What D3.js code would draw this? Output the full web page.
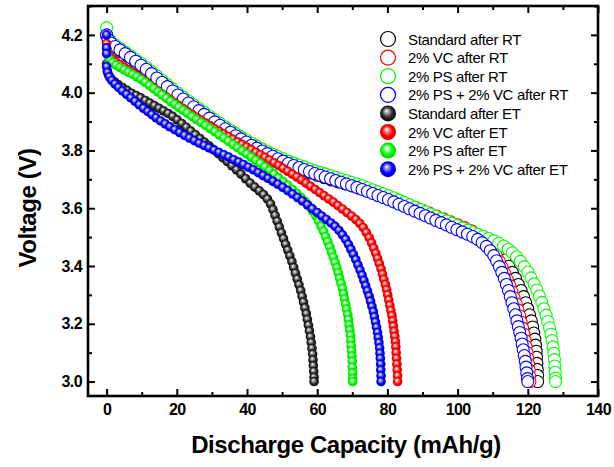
<!DOCTYPE html>
<html><head><meta charset="utf-8">
<script src="https://cdn.jsdelivr.net/npm/d3@7"></script>
<style>
body{margin:0;background:#fff}
svg{display:block}
text{font-family:"Liberation Sans",Arial,Helvetica,sans-serif}
</style>
</head><body>
<svg id="chart" width="614" height="467"></svg>
<script>
// Axis ticks
const xTicks = [0, 20, 40, 60, 80, 100, 120, 140];
const xMinorTicks = [10, 30, 50, 70, 90, 110, 130];
const yTicks = [3.0, 3.2, 3.4, 3.6, 3.8, 4.0, 4.2];
const yMinorTicks = [3.1, 3.3, 3.5, 3.7, 3.9, 4.1, 4.3];

const seriesNames = [
  "Standard after RT", "2% VC after RT", "2% PS after RT", "2% PS + 2% VC after RT",
  "Standard after ET", "2% VC after ET", "2% PS after ET", "2% PS + 2% VC after ET"
];
const seriesColors = ["#000000", "#ff0000", "#00ff00", "#0000ff"];

// Discharge curves: [capacity mAh/g, voltage V]
const standardRT = [[0,4.2],[0.5,4.18],[2,4.16],[4,4.142],[6,4.126],[8,4.11],[10,4.092],[12,4.073],[14,4.053],[16,4.033],[18,4.012],[20,3.993],[22,3.974],[24,3.956],[26,3.938],[28,3.92],[30,3.903],[32,3.886],[34,3.869],[36,3.853],[38,3.838],[40,3.823],[42,3.809],[44,3.796],[46,3.783],[48,3.771],[50,3.76],[52,3.75],[54,3.74],[56,3.731],[58,3.722],[60,3.714],[62,3.706],[64,3.698],[66,3.691],[68,3.684],[70,3.677],[72,3.669],[74,3.661],[76,3.653],[78,3.645],[80,3.636],[82,3.627],[84,3.618],[86,3.608],[88,3.598],[90,3.588],[92,3.578],[94,3.568],[96,3.558],[98,3.548],[100,3.538],[102,3.528],[104,3.517],[106,3.505],[108,3.491],[109.6,3.476],[111,3.459],[112.3,3.44],[113.5,3.42],[114.6,3.399],[115.6,3.378],[116.5,3.357],[117.3,3.336],[118.1,3.315],[118.8,3.294],[119.4,3.273],[120,3.252],[120.5,3.231],[121,3.21],[121.4,3.189],[121.7,3.168],[122,3.147],[122.2,3.126],[122.4,3.105],[122.5,3.084],[122.6,3.063],[122.7,3.042],[122.8,3.021],[122.8,3.0]];

const vcRT = [[0,4.2],[0.5,4.18],[2,4.162],[4,4.145],[6,4.13],[8,4.114],[10,4.097],[12,4.077],[14,4.057],[16,4.037],[18,4.017],[20,3.998],[22,3.98],[24,3.962],[26,3.945],[28,3.928],[30,3.911],[32,3.895],[34,3.879],[36,3.863],[38,3.848],[40,3.833],[42,3.819],[44,3.806],[46,3.794],[48,3.782],[50,3.771],[52,3.761],[54,3.751],[56,3.742],[58,3.733],[60,3.725],[62,3.717],[64,3.709],[66,3.701],[68,3.694],[70,3.686],[72,3.678],[74,3.67],[76,3.661],[78,3.652],[80,3.643],[82,3.633],[84,3.623],[86,3.613],[88,3.603],[90,3.593],[92,3.583],[94,3.573],[96,3.563],[98,3.553],[100,3.543],[102,3.533],[104,3.522],[106,3.508],[107.5,3.494],[108.8,3.477],[110,3.457],[111,3.437],[111.9,3.416],[112.7,3.395],[113.5,3.374],[114.2,3.353],[114.9,3.332],[115.5,3.311],[116.1,3.29],[116.7,3.269],[117.2,3.248],[117.7,3.227],[118.1,3.206],[118.5,3.185],[118.9,3.164],[119.2,3.143],[119.5,3.122],[119.8,3.1],[120,3.08],[120.2,3.06],[120.4,3.04],[120.5,3.02],[120.6,3.0]];

const psRT = [[0,4.225],[0.4,4.19],[1.2,4.178],[2.4,4.166],[3.8,4.154],[5.3,4.141],[6.8,4.128],[8.3,4.115],[9.8,4.102],[11.3,4.088],[12.8,4.073],[14.3,4.058],[15.8,4.043],[17.3,4.028],[18.8,4.013],[20.3,3.999],[21.8,3.985],[23.3,3.971],[24.8,3.958],[26.3,3.945],[27.8,3.932],[29.3,3.919],[30.8,3.906],[32.3,3.894],[33.8,3.882],[35.3,3.87],[36.8,3.858],[38.3,3.847],[39.8,3.836],[41.3,3.825],[42.8,3.815],[44.3,3.805],[45.8,3.796],[47.3,3.787],[48.8,3.779],[50.3,3.771],[51.8,3.763],[53.3,3.756],[54.8,3.749],[56.3,3.743],[57.8,3.736],[59.3,3.73],[60.8,3.724],[62.3,3.719],[63.8,3.713],[65.3,3.707],[66.8,3.701],[68.3,3.696],[69.8,3.69],[71.3,3.684],[72.8,3.678],[74.3,3.671],[75.8,3.664],[77.3,3.657],[78.8,3.65],[80.3,3.643],[81.8,3.636],[83.3,3.628],[84.8,3.62],[86.3,3.612],[87.8,3.604],[89.3,3.596],[90.8,3.588],[92.3,3.58],[93.8,3.572],[95.3,3.564],[96.8,3.556],[98.3,3.548],[99.8,3.54],[101.3,3.532],[102.8,3.524],[104.3,3.516],[105.8,3.51],[107.3,3.503],[108.8,3.496],[110.3,3.488],[111.7,3.479],[113.1,3.469],[114.4,3.458],[115.6,3.446],[116.8,3.432],[117.9,3.416],[119,3.398],[120,3.379],[120.9,3.359],[121.8,3.338],[122.6,3.317],[123.3,3.296],[124,3.274],[124.6,3.252],[125.2,3.23],[125.7,3.208],[126.2,3.186],[126.6,3.164],[126.9,3.142],[127.2,3.12],[127.4,3.098],[127.6,3.076],[127.7,3.054],[127.8,3.032],[127.9,3.012],[127.9,3.0]];

const psvcRT = [[0,4.2],[0.4,4.185],[1.2,4.172],[2.4,4.16],[3.8,4.148],[5.3,4.135],[6.8,4.122],[8.3,4.109],[9.8,4.095],[11.3,4.081],[12.8,4.066],[14.3,4.051],[15.8,4.036],[17.3,4.021],[18.8,4.006],[20.3,3.992],[21.8,3.978],[23.3,3.964],[24.8,3.951],[26.3,3.938],[27.8,3.925],[29.3,3.912],[30.8,3.899],[32.3,3.887],[33.8,3.875],[35.3,3.863],[36.8,3.851],[38.3,3.84],[39.8,3.829],[41.3,3.818],[42.8,3.808],[44.3,3.798],[45.8,3.789],[47.3,3.78],[48.8,3.771],[50.3,3.763],[51.8,3.755],[53.3,3.748],[54.8,3.741],[56.3,3.734],[57.8,3.727],[59.3,3.72],[60.8,3.714],[62.3,3.708],[63.8,3.702],[65.3,3.696],[66.8,3.69],[68.3,3.684],[69.8,3.678],[71.3,3.672],[72.8,3.665],[74.3,3.658],[75.8,3.651],[77.3,3.644],[78.8,3.637],[80.3,3.63],[81.8,3.622],[83.3,3.614],[84.8,3.606],[86.3,3.598],[87.8,3.59],[89.3,3.582],[90.8,3.574],[92.3,3.566],[93.8,3.558],[95.3,3.55],[96.8,3.542],[98.3,3.534],[99.8,3.526],[101.3,3.518],[102.8,3.51],[104.3,3.502],[105.7,3.492],[107,3.481],[108.2,3.468],[109.3,3.453],[110.3,3.436],[111.1,3.418],[111.9,3.398],[112.6,3.378],[113.3,3.357],[113.9,3.336],[114.5,3.315],[115,3.294],[115.5,3.273],[116,3.252],[116.5,3.231],[116.9,3.21],[117.3,3.19],[117.7,3.17],[118.1,3.15],[118.4,3.13],[118.7,3.11],[119,3.09],[119.3,3.07],[119.5,3.05],[119.7,3.03],[119.9,3.01],[120,3.0]];

const standardET = [[0,4.1],[0.2,4.075],[0.6,4.06],[1.3,4.048],[2.2,4.038],[3.3,4.028],[4.5,4.018],[5.8,4.008],[7.1,3.998],[8.4,3.99],[9.7,3.982],[11,3.973],[12.3,3.964],[13.6,3.955],[14.9,3.946],[16.2,3.937],[17.5,3.928],[18.8,3.918],[20.1,3.906],[21.4,3.893],[22.7,3.88],[24,3.867],[25.3,3.854],[26.6,3.841],[27.9,3.828],[29.2,3.816],[30.5,3.803],[31.8,3.789],[33.1,3.775],[34.4,3.761],[35.7,3.747],[37,3.733],[38.3,3.718],[39.6,3.702],[40.9,3.687],[42.2,3.673],[43.5,3.66],[44.7,3.647],[45.8,3.632],[46.7,3.615],[47.4,3.595],[48,3.575],[48.6,3.555],[49.2,3.535],[49.8,3.515],[50.4,3.495],[51,3.475],[51.6,3.455],[52.2,3.435],[52.8,3.415],[53.3,3.395],[53.8,3.375],[54.3,3.355],[54.8,3.335],[55.3,3.315],[55.7,3.295],[56.1,3.275],[56.5,3.255],[56.9,3.235],[57.2,3.215],[57.5,3.195],[57.8,3.175],[58.1,3.155],[58.3,3.135],[58.5,3.115],[58.7,3.095],[58.8,3.075],[58.9,3.055],[59,3.035],[59.1,3.015],[59.1,3.0]];

const vcET = [[0,4.17],[0.3,4.145],[0.9,4.128],[1.7,4.116],[2.7,4.106],[3.8,4.097],[5,4.088],[6.2,4.079],[7.4,4.07],[8.6,4.06],[9.8,4.05],[11,4.039],[12.2,4.028],[13.4,4.017],[14.6,4.006],[15.8,3.995],[17,3.985],[18.2,3.975],[19.4,3.965],[20.6,3.955],[21.8,3.945],[23,3.935],[24.3,3.925],[25.6,3.915],[26.9,3.905],[28.2,3.895],[29.5,3.885],[30.8,3.875],[32.1,3.866],[33.4,3.857],[34.7,3.848],[36,3.839],[37.3,3.83],[38.6,3.821],[39.9,3.812],[41.2,3.803],[42.5,3.794],[43.8,3.785],[45.1,3.776],[46.4,3.767],[47.7,3.757],[49,3.748],[50.3,3.738],[51.6,3.728],[52.9,3.718],[54.2,3.708],[55.5,3.698],[56.8,3.687],[58.1,3.676],[59.4,3.665],[60.7,3.654],[62,3.643],[63.3,3.632],[64.6,3.621],[65.9,3.609],[67.2,3.597],[68.5,3.585],[69.8,3.573],[71,3.561],[72.1,3.548],[73.1,3.533],[74,3.516],[74.8,3.498],[75.5,3.48],[76.1,3.462],[76.7,3.444],[77.2,3.426],[77.7,3.408],[78.2,3.39],[78.6,3.372],[79,3.354],[79.4,3.336],[79.8,3.318],[80.1,3.3],[80.4,3.282],[80.7,3.264],[81,3.246],[81.3,3.228],[81.5,3.21],[81.7,3.192],[81.9,3.174],[82.1,3.156],[82.3,3.138],[82.4,3.12],[82.5,3.1],[82.6,3.08],[82.7,3.06],[82.8,3.04],[82.9,3.02],[82.9,3.0]];

const psET = [[0,4.15],[0.3,4.13],[0.9,4.115],[1.7,4.104],[2.7,4.095],[3.8,4.087],[5,4.079],[6.2,4.071],[7.4,4.063],[8.6,4.055],[9.8,4.046],[11,4.036],[12.2,4.025],[13.4,4.014],[14.6,4.003],[15.8,3.992],[17,3.981],[18.2,3.97],[19.4,3.96],[20.6,3.949],[21.8,3.939],[23,3.929],[24.3,3.918],[25.6,3.907],[26.9,3.897],[28.2,3.887],[29.5,3.876],[30.8,3.865],[32.1,3.854],[33.4,3.843],[34.7,3.832],[36,3.821],[37.3,3.81],[38.6,3.799],[39.9,3.788],[41.2,3.777],[42.5,3.766],[43.8,3.755],[45.1,3.743],[46.4,3.731],[47.7,3.718],[49,3.705],[50.3,3.692],[51.6,3.679],[52.9,3.665],[54.2,3.651],[55.4,3.637],[56.6,3.622],[57.7,3.606],[58.7,3.59],[59.6,3.573],[60.4,3.556],[61.1,3.538],[61.8,3.52],[62.4,3.502],[63,3.484],[63.6,3.466],[64.1,3.448],[64.6,3.43],[65.1,3.412],[65.6,3.394],[66,3.376],[66.4,3.358],[66.8,3.34],[67.2,3.322],[67.5,3.304],[67.8,3.286],[68.1,3.268],[68.4,3.25],[68.7,3.232],[68.9,3.214],[69.1,3.196],[69.3,3.178],[69.5,3.16],[69.6,3.142],[69.7,3.124],[69.8,3.106],[69.9,3.088],[70,3.07],[70,3.05],[70.1,3.03],[70.1,3.01],[70.1,3.0]];

const psvcET = [[0,4.2],[0,4.155],[0,4.135],[0,4.09],[0.3,4.07],[0.8,4.055],[1.5,4.042],[2.4,4.03],[3.4,4.018],[4.5,4.006],[5.7,3.994],[6.9,3.982],[8.1,3.97],[9.3,3.958],[10.5,3.946],[11.7,3.935],[12.9,3.924],[14.1,3.913],[15.4,3.902],[16.7,3.892],[18,3.882],[19.4,3.872],[20.8,3.862],[22.2,3.852],[23.6,3.843],[25,3.834],[26.4,3.825],[27.8,3.817],[29.2,3.809],[30.6,3.801],[32,3.793],[33.4,3.785],[34.8,3.777],[36.2,3.768],[37.6,3.76],[39,3.751],[40.4,3.742],[41.8,3.733],[43.2,3.723],[44.6,3.713],[46,3.703],[47.4,3.693],[48.8,3.683],[50.2,3.672],[51.6,3.661],[53,3.649],[54.4,3.637],[55.8,3.625],[57.2,3.612],[58.6,3.598],[60,3.585],[61.3,3.573],[62.6,3.561],[63.9,3.549],[65.1,3.537],[66.2,3.523],[67.2,3.508],[68.1,3.492],[68.9,3.475],[69.6,3.458],[70.3,3.44],[71,3.422],[71.6,3.404],[72.2,3.386],[72.8,3.368],[73.3,3.35],[73.8,3.332],[74.3,3.314],[74.8,3.296],[75.2,3.278],[75.6,3.26],[76,3.242],[76.3,3.224],[76.6,3.206],[76.9,3.188],[77.2,3.17],[77.4,3.152],[77.6,3.134],[77.8,3.116],[77.9,3.098],[78,3.08],[78.1,3.06],[78.1,3.04],[78.2,3.02],[78.2,3.0]];

const seriesData = [standardRT, vcRT, psRT, psvcRT, standardET, vcET, psET, psvcET];

// Layout
const W = 614, H = 467;
const plot = { left: 88, right: 598, top: 6, bottom: 396 };

const svg = d3.select("#chart");
svg.append("rect").attr("width", W).attr("height", H).attr("fill", "#fff");

const x = d3.scaleLinear().domain([-5.3, 140]).range([plot.left, plot.right]);
const y = d3.scaleLinear().domain([2.95, 4.30]).range([plot.bottom, plot.top]);

// Glossy sphere gradients for the ET series
const shades = [
  ["#ffffff", "#a8a8a8", "#2a2a2a", "#000000"],
  ["#ffffff", "#ff9a9a", "#ff0000", "#c80000"],
  ["#ffffff", "#b0ffb0", "#00ff00", "#00c400"],
  ["#ffffff", "#9a9aff", "#0000ff", "#0000b4"]
];
const defs = svg.append("defs");
shades.forEach((s, i) => {
  const g = defs.append("radialGradient").attr("id", "sphere" + i)
    .attr("cx", "0.5").attr("cy", "0.5").attr("r", "0.55")
    .attr("fx", "0.4").attr("fy", "0.33");
  g.append("stop").attr("offset", "0").attr("stop-color", s[0]);
  g.append("stop").attr("offset", "0.22").attr("stop-color", s[1]);
  g.append("stop").attr("offset", "0.6").attr("stop-color", s[2]);
  g.append("stop").attr("offset", "1").attr("stop-color", s[3]);
});

// Data markers (RT: hollow circles, ET: shaded spheres)
const marks = svg.append("g");
seriesData.forEach((data, i) => {
  const c = i % 4;
  const isET = i >= 4;
  const g = marks.append("g");
  g.selectAll("circle").data(data).join("circle")
    .attr("cx", d => x(d[0]))
    .attr("cy", d => y(d[1]))
    .attr("r", isET ? 4.8 : 6)
    .attr("fill", isET ? `url(#sphere${c})` : "#fff")
    .attr("stroke", isET ? "none" : seriesColors[c])
    .attr("stroke-width", isET ? 0 : 1.1);
});

// Axes with inward ticks on all four sides
const tickLen = 7, minorLen = 4;
function styleAxis(g) {
  g.select(".domain").remove();
  g.selectAll(".tick line").attr("stroke", "#000").attr("stroke-width", 2);
  g.selectAll(".tick text")
    .attr("fill", "#000")
    .style("font-size", "16px")
    .style("font-weight", "bold")
    .style("letter-spacing", "-0.6px");
}
const fmtY = d3.format(".1f");

svg.append("g").attr("transform", `translate(0,${plot.bottom})`)
  .call(d3.axisBottom(x).tickValues(xTicks).tickSize(-tickLen).tickPadding(8).tickFormat(d3.format("d")))
  .call(styleAxis);
svg.append("g").attr("transform", `translate(0,${plot.bottom})`)
  .call(d3.axisBottom(x).tickValues(xMinorTicks).tickSize(-minorLen).tickFormat(""))
  .call(styleAxis);
svg.append("g").attr("transform", `translate(0,${plot.top})`)
  .call(d3.axisTop(x).tickValues(xTicks).tickSize(-tickLen).tickFormat(""))
  .call(styleAxis);
svg.append("g").attr("transform", `translate(0,${plot.top})`)
  .call(d3.axisTop(x).tickValues(xMinorTicks).tickSize(-minorLen).tickFormat(""))
  .call(styleAxis);

svg.append("g").attr("transform", `translate(${plot.left},0)`)
  .call(d3.axisLeft(y).tickValues(yTicks).tickSize(-tickLen).tickPadding(6).tickFormat(fmtY))
  .call(styleAxis);
svg.append("g").attr("transform", `translate(${plot.left},0)`)
  .call(d3.axisLeft(y).tickValues(yMinorTicks).tickSize(-minorLen).tickFormat(""))
  .call(styleAxis);
svg.append("g").attr("transform", `translate(${plot.right},0)`)
  .call(d3.axisRight(y).tickValues(yTicks).tickSize(-tickLen).tickFormat(""))
  .call(styleAxis);
svg.append("g").attr("transform", `translate(${plot.right},0)`)
  .call(d3.axisRight(y).tickValues(yMinorTicks).tickSize(-minorLen).tickFormat(""))
  .call(styleAxis);

// Frame
svg.append("rect")
  .attr("x", plot.left).attr("y", plot.top)
  .attr("width", plot.right - plot.left).attr("height", plot.bottom - plot.top)
  .attr("fill", "none").attr("stroke", "#000").attr("stroke-width", 2.6);

// Axis titles
svg.append("text")
  .attr("x", 346).attr("y", 453)
  .attr("text-anchor", "middle")
  .style("font-size", "24px").style("font-weight", "bold").style("letter-spacing", "-0.4px")
  .text("Discharge Capacity (mAh/g)");
svg.append("text")
  .attr("transform", "translate(36,208) rotate(-90)")
  .attr("text-anchor", "middle")
  .style("font-size", "24px").style("font-weight", "bold").style("letter-spacing", "-0.4px")
  .text("Voltage (V)");

// Legend
const legend = svg.append("g");
const legX = 388, legY0 = 39, legStep = 18.6;
seriesNames.forEach((name, i) => {
  const c = i % 4, isET = i >= 4;
  const cy = legY0 + i * legStep;
  legend.append("circle")
    .attr("cx", legX).attr("cy", cy).attr("r", isET ? 8 : 7.5)
    .attr("fill", isET ? `url(#sphere${c})` : "#fff")
    .attr("stroke", isET ? "none" : seriesColors[c])
    .attr("stroke-width", 1.2);
  legend.append("text")
    .attr("x", legX + 20).attr("y", cy + 5.5)
    .style("font-size", "15px").style("letter-spacing", "-0.35px")
    .attr("fill", "#000")
    .text(name);
});
</script>
</body></html>
